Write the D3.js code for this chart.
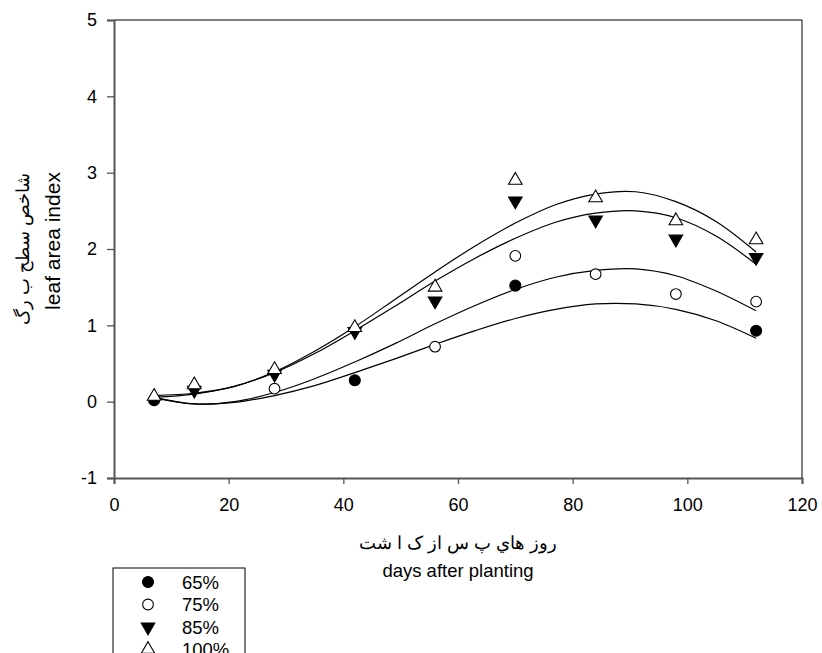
<!DOCTYPE html>
<html>
<head>
<meta charset="utf-8">
<script src="https://cdn.jsdelivr.net/npm/d3@7"></script>
<style>
  body { margin: 0; background: #fff; }
  svg text { font-family: "Liberation Sans", Arial, sans-serif; fill: #000; }
</style>
</head>
<body>
<div id="chart"></div>
<script>
// sampling days
const days = [7, 14, 28, 42, 56, 70, 84, 98, 112];

// leaf area index per irrigation level (null = not visible in the figure)
const lai65 = [0.02, null, null, 0.28, null, 1.52, null, null, 0.93];
const lai75 = [null, null, 0.17, null, 0.72, 1.91, 1.67, 1.41, 1.31];
const lai85 = [null, 0.15, 0.36, 0.92, 1.32, 2.63, 2.38, 2.13, 1.89];
const lai100 = [0.07, 0.22, 0.42, 0.97, 1.5, 2.9, 2.67, 2.37, 2.12];

// fitted curves
const fitDays = [7, 14, 21, 28, 35, 42, 49, 56, 63, 70, 77, 84, 91, 98, 105, 112];
const fit65 = [0.05, -0.03, -0.01, 0.08, 0.21, 0.38, 0.56, 0.75, 0.93, 1.09, 1.21, 1.28, 1.28, 1.21, 1.06, 0.83];
const fit75 = [0.06, -0.03, 0.0, 0.12, 0.3, 0.52, 0.76, 1.02, 1.26, 1.47, 1.63, 1.72, 1.74, 1.65, 1.45, 1.19];
const fit85 = [0.06, 0.1, 0.2, 0.38, 0.63, 0.93, 1.25, 1.58, 1.88, 2.14, 2.35, 2.47, 2.5, 2.41, 2.17, 1.8];
const fit100 = [0.08, 0.11, 0.2, 0.39, 0.66, 0.98, 1.34, 1.7, 2.04, 2.34, 2.58, 2.72, 2.75, 2.62, 2.36, 1.96];

const xTicks = [0, 20, 40, 60, 80, 100, 120];
const yTicks = [-1, 0, 1, 2, 3, 4, 5];
const legendLabels = ["65%", "75%", "85%", "100%"];

const W = 822, H = 653;
const margin = { top: 20, right: 20, bottom: 175, left: 114 };
const width = 802 - margin.left;
const height = 478 - margin.top;

const svg = d3.select("#chart").append("svg")
    .attr("width", W)
    .attr("height", H);

const g = svg.append("g")
    .attr("transform", `translate(${margin.left},${margin.top})`);

const x = d3.scaleLinear().domain([0, 120]).range([0, width]);
const y = d3.scaleLinear().domain([-1, 5]).range([height, 0]);

// frame top/right
g.append("line").attr("x1", 0).attr("x2", width).attr("y1", 0).attr("y2", 0)
    .attr("stroke", "#000").attr("stroke-width", 1);
g.append("line").attr("x1", width).attr("x2", width).attr("y1", 0).attr("y2", height)
    .attr("stroke", "#000").attr("stroke-width", 1);

const xAxis = g.append("g")
    .attr("transform", `translate(0,${height})`)
    .call(d3.axisBottom(x).tickValues(xTicks).tickSize(6).tickPadding(14).tickFormat(d => d));
const yAxis = g.append("g")
    .call(d3.axisLeft(y).tickValues(yTicks).tickSize(7).tickPadding(10).tickFormat(d => d));

[xAxis, yAxis].forEach(a => {
    a.select(".domain").attr("stroke", "#555").attr("stroke-width", 2);
    a.selectAll(".tick line").attr("stroke", "#555").attr("stroke-width", 1.3);
    a.selectAll("text").attr("font-size", 18).attr("font-family", "Liberation Sans, Arial, sans-serif");
});

// fitted lines
const line = d3.line()
    .x(d => x(d[0]))
    .y(d => y(d[1]))
    .curve(d3.curveCatmullRom.alpha(0.5));

[fit65, fit75, fit85, fit100].forEach(f => {
    g.append("path")
        .datum(fitDays.map((d, i) => [d, f[i]]))
        .attr("d", line)
        .attr("fill", "none")
        .attr("stroke", "#000")
        .attr("stroke-width", 1.2);
});

// markers
const sym = {
    "65%": { type: d3.symbolCircle, size: 95, fill: "#000", rot: 0 },
    "75%": { type: d3.symbolCircle, size: 90, fill: "#fff", rot: 0 },
    "85%": { type: d3.symbolTriangle, size: 80, fill: "#000", rot: 180 },
    "100%": { type: d3.symbolTriangle, size: 80, fill: "#fff", rot: 0 }
};
const series = [lai65, lai75, lai85, lai100];

series.forEach((vals, si) => {
    const s = sym[legendLabels[si]];
    const pts = days.map((d, i) => ({ d, v: vals[i] })).filter(p => p.v !== null);
    g.selectAll(null)
        .data(pts)
        .enter()
        .append("path")
        .attr("d", d3.symbol().type(s.type).size(s.size))
        .attr("transform", p => `translate(${x(p.d)},${y(p.v)}) rotate(${s.rot})`)
        .attr("fill", s.fill)
        .attr("stroke", "#000")
        .attr("stroke-width", 1.1);
});

// axis titles
svg.append("text")
    .attr("x", 458).attr("y", 549)
    .attr("text-anchor", "middle")
    .attr("font-size", 17.5)
    .attr("font-family", "DejaVu Sans, sans-serif")
    .text("روز هاي پ س از ک ا شت");

svg.append("text")
    .attr("x", 458).attr("y", 577)
    .attr("text-anchor", "middle")
    .attr("font-size", 18.5)
    .text("days after planting");

svg.append("text")
    .attr("transform", "translate(29,249) rotate(-90)")
    .attr("text-anchor", "middle")
    .attr("font-size", 18)
    .attr("font-family", "DejaVu Sans, sans-serif")
    .text("شاخص سطح ب رگ");

svg.append("text")
    .attr("transform", "translate(60,241) rotate(-90)")
    .attr("text-anchor", "middle")
    .attr("font-size", 21)
    .text("leaf area index");

// legend
const lg = svg.append("g");
lg.append("rect")
    .attr("x", 113).attr("y", 568)
    .attr("width", 132).attr("height", 110)
    .attr("fill", "#fff")
    .attr("stroke", "#000")
    .attr("stroke-width", 1);

legendLabels.forEach((lab, i) => {
    const s = sym[lab];
    const yy = 582 + i * 22.5;
    lg.append("path")
        .attr("d", d3.symbol().type(s.type).size(s.size))
        .attr("transform", `translate(148,${yy}) rotate(${s.rot})`)
        .attr("fill", s.fill)
        .attr("stroke", "#000")
        .attr("stroke-width", 1.1);
    lg.append("text")
        .attr("x", 182).attr("y", yy + 6.5)
        .attr("font-size", 18.5)
        .text(lab);
});
</script>
</body>
</html>
